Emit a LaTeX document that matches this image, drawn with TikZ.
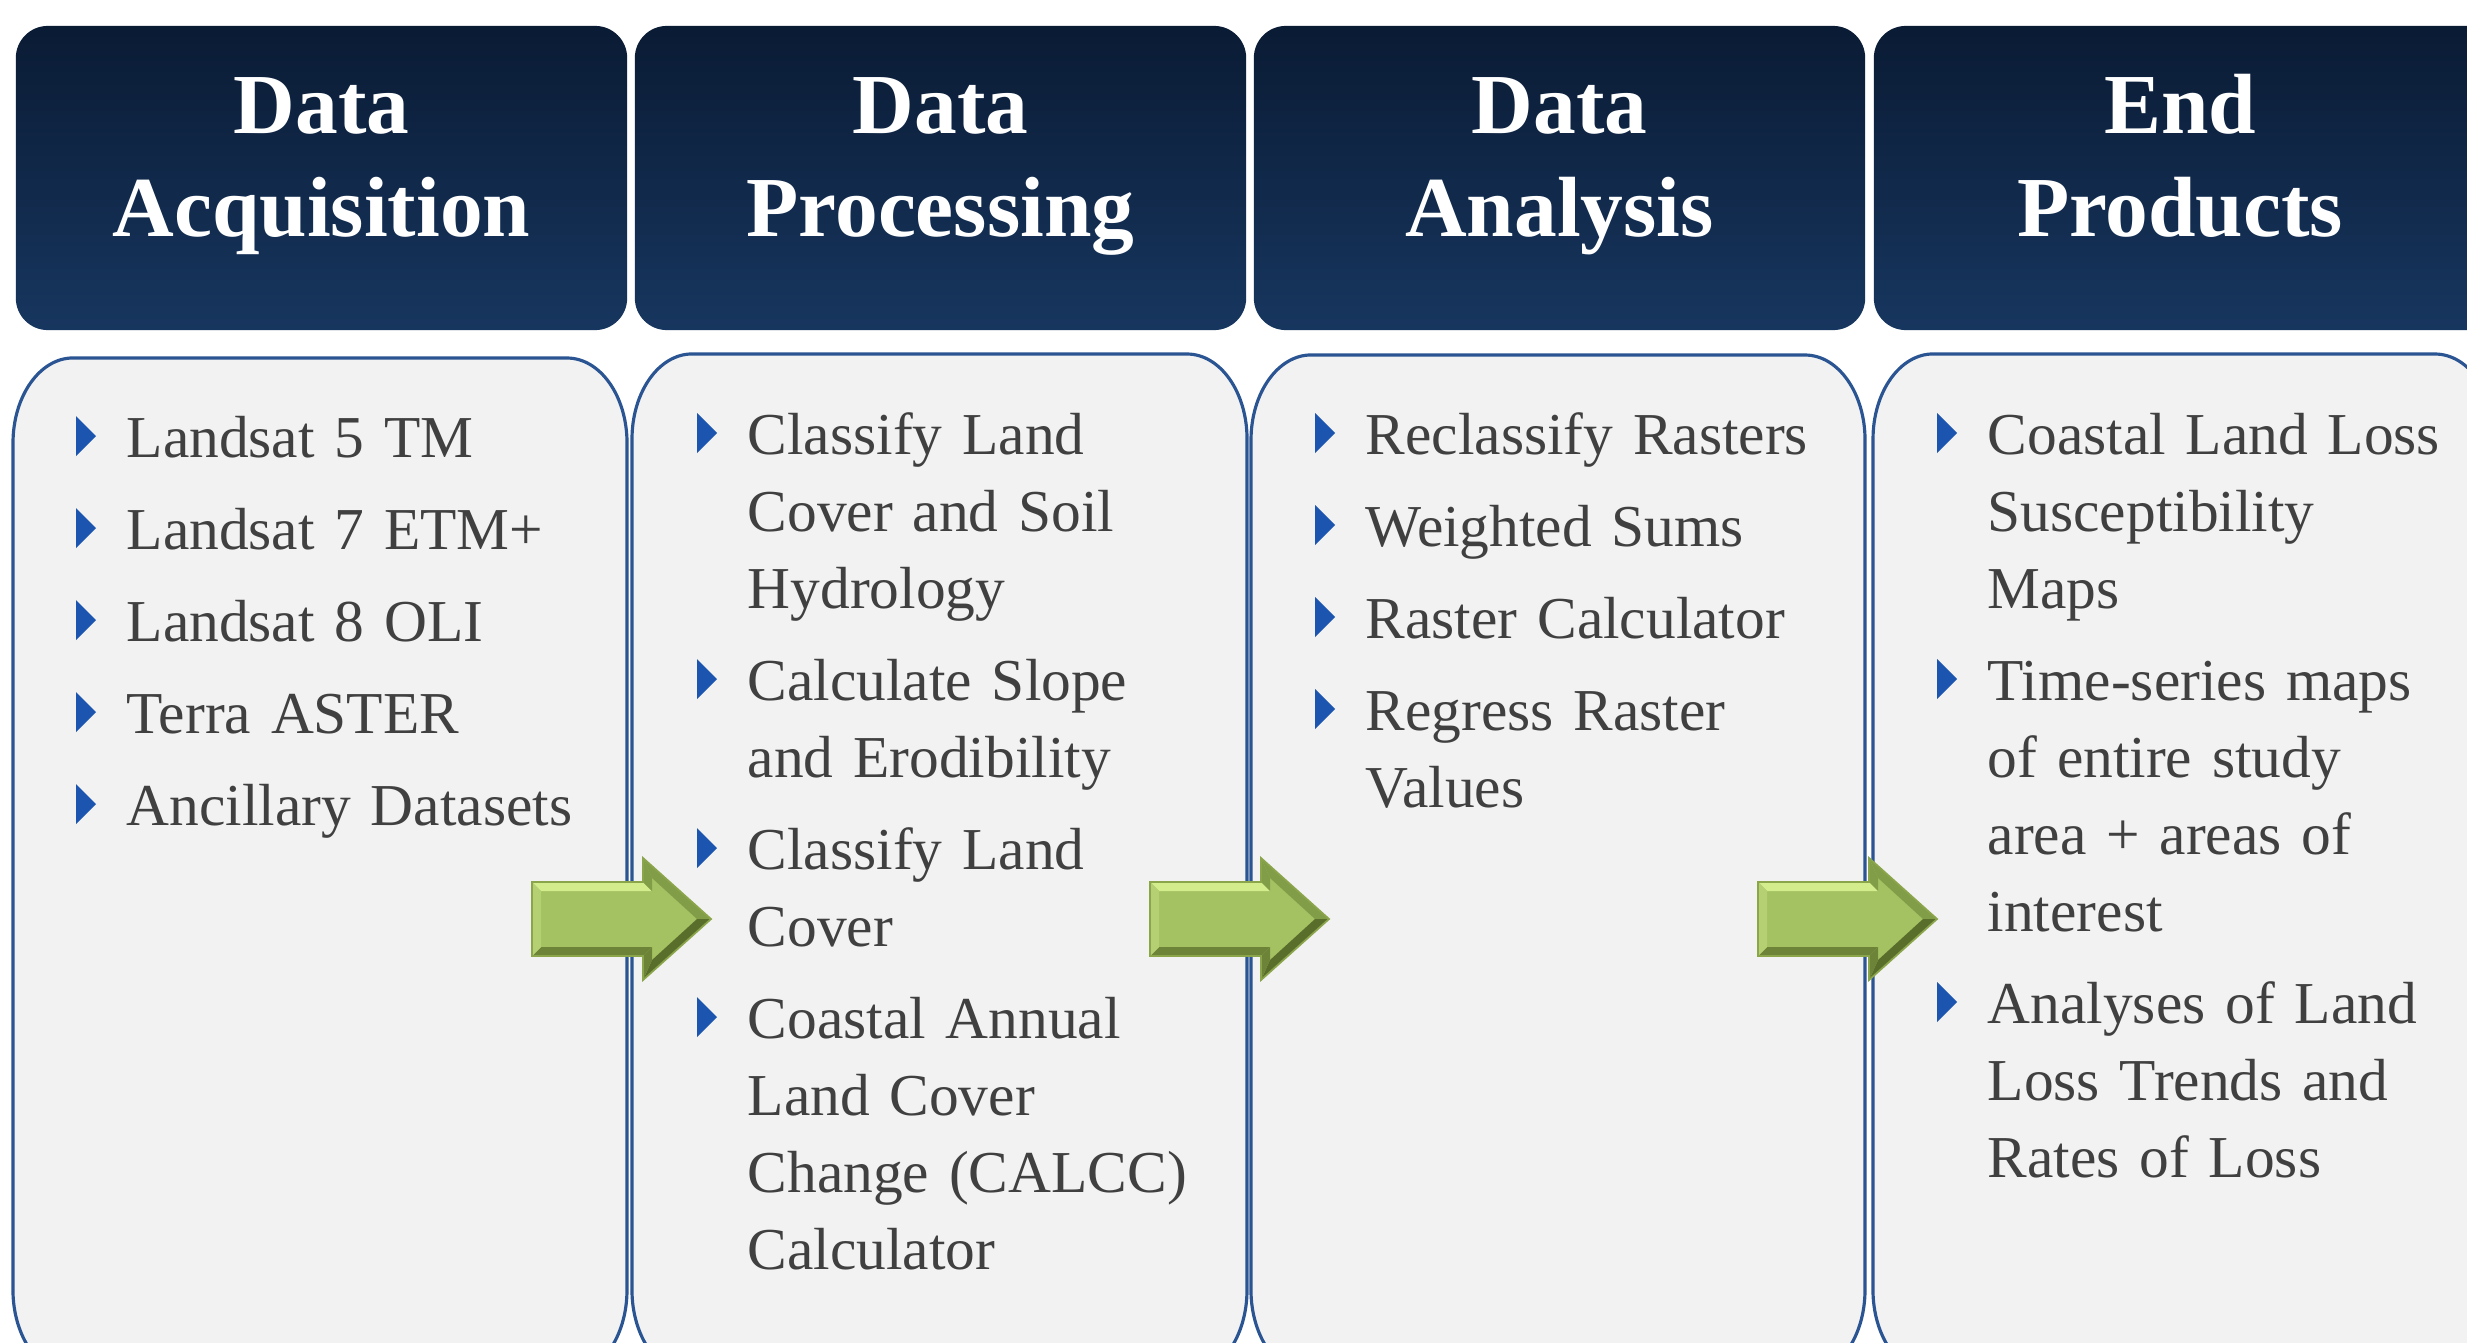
\documentclass[tikz,border=0pt]{standalone}
\usepackage{fontspec}
\setmainfont{Liberation Serif}
\definecolor{headtop}{HTML}{0A1B34}
\definecolor{headbot}{HTML}{17365F}
\definecolor{boxfill}{HTML}{F2F2F2}
\definecolor{boxline}{HTML}{2B5592}
\definecolor{txtgray}{HTML}{404040}
\definecolor{bulblue}{HTML}{1C55B0}
\definecolor{gmain}{HTML}{A4C262}
\definecolor{glight}{HTML}{D3EC8C}
\definecolor{gleft}{HTML}{B5D072}
\definecolor{gmid}{HTML}{819D47}
\definecolor{gdark}{HTML}{5A6E2C}
\definecolor{gdark2}{HTML}{6D8438}
\definecolor{gline}{HTML}{8AA54A}
\newcommand\contentbox[4]{%
  \path[cbox] ({#1+60},#3) -- ({#2-60},#3)
    arc[start angle=90,end angle=0,x radius=0.6cm,y radius=0.85cm]
    -- (#2,{#4-85})
    arc[start angle=0,end angle=-90,x radius=0.6cm,y radius=0.85cm]
    -- ({#1+60},#4)
    arc[start angle=270,end angle=180,x radius=0.6cm,y radius=0.85cm]
    -- (#1,{#3+85})
    arc[start angle=180,end angle=90,x radius=0.6cm,y radius=0.85cm]
    -- cycle;}
\newcommand\mybullet[1]{\fill[bulblue] (#1.base west) ++(-50,-1) -- ++(0,-40) -- ++(20,20) -- cycle;}
\newcommand\greenarrow[1]{%
  \begin{scope}[shift={(#1,0)}]
    \fill[gmain] (0,882) -- (111,882) -- (111,858) -- (179,919) -- (111,980) -- (111,956) -- (0,956) -- cycle;
    \fill[glight] (0,882) -- (111,882) -- (120,891) -- (9,891) -- cycle;
    \fill[gmid] (111,882) -- (111,858) -- (120,878) -- (120,891) -- cycle;
    \fill[gmid] (111,858) -- (179,919) -- (165,919) -- (120,878) -- cycle;
    \fill[gdark] (179,919) -- (111,980) -- (120,960) -- (165,919) -- cycle;
    \fill[gdark2] (111,980) -- (111,956) -- (120,947) -- (120,960) -- cycle;
    \fill[gdark2] (111,956) -- (0,956) -- (9,947) -- (120,947) -- cycle;
    \fill[gleft] (0,956) -- (0,882) -- (9,891) -- (9,947) -- cycle;
    \draw[gline, line width=0.5pt, line join=miter] (0,882) -- (111,882) -- (111,858) -- (179,919) -- (111,980) -- (111,956) -- (0,956) -- cycle;
  \end{scope}}
\begin{document}
\begin{tikzpicture}[x=0.01cm,y=-0.01cm,
  cbox/.style={fill=boxfill, draw=boxline, line width=0.9pt},
  headbox/.style={rounded corners=0.32cm, top color=headtop, bottom color=headbot, draw=none, minimum height=3.04cm, inner sep=0},
  htext/.style={anchor=base, inner sep=0, text width=6cm, align=center, text=white, font=\fontsize{24.3}{29.3}\selectfont\bfseries},
  itemtext/.style={anchor=base west, inner sep=0, text width=5.9cm, align=left, text=txtgray, font=\fontsize{16.9}{21.9}\selectfont}]
\clip (0,0) rectangle (2467,1342);
\fill[white] (0,0) rectangle (2467,1342);

% content boxes
\contentbox{13}{627}{358}{1375}
\contentbox{632}{1247}{354}{1375}
\contentbox{1251}{1865}{355}{1375}
\contentbox{1873}{2495}{354}{1375}

% headers
\node[headbox, minimum width=6.11cm] (h1) at (321.5,178) {};
\node[headbox, minimum width=6.11cm] (h2) at (940.5,178) {};
\node[headbox, minimum width=6.11cm] (h3) at (1559.5,178) {};
\node[headbox, minimum width=6.26cm] (h4) at (2187,178) {};
\node[htext] (t1) at (321.5,133) {Data\\Acquisition};
\node[htext] (t2) at (940.5,133) {Data\\Processing};
\node[htext] (t3) at (1559.5,133) {Data\\Analysis};
\node[htext] (t4) at (2180,133) {End\\Products};

% column 1
\node[itemtext] (a1) at (126,457) {Landsat 5 TM};
\node[itemtext] (a2) at (126,549) {Landsat 7 ETM+};
\node[itemtext] (a3) at (126,641) {Landsat 8 OLI};
\node[itemtext] (a4) at (126,733) {Terra ASTER};
\node[itemtext] (a5) at (126,825) {Ancillary Datasets};
\mybullet{a1}\mybullet{a2}\mybullet{a3}\mybullet{a4}\mybullet{a5}

% column 2
\node[itemtext] (b1) at (747,454) {Classify Land\\Cover and Soil\\Hydrology};
\node[itemtext] (b2) at (747,700) {Calculate Slope\\and Erodibility};
\node[itemtext] (b3) at (747,869) {Classify Land\\Cover};
\node[itemtext] (b4) at (747,1038) {Coastal Annual\\Land Cover\\Change (CALCC)\\Calculator};
\mybullet{b1}\mybullet{b2}\mybullet{b3}\mybullet{b4}

% column 3
\node[itemtext] (c1) at (1365,454) {Reclassify Rasters};
\node[itemtext] (c2) at (1365,546) {Weighted Sums};
\node[itemtext] (c3) at (1365,638) {Raster Calculator};
\node[itemtext] (c4) at (1365,730) {Regress Raster\\Values};
\mybullet{c1}\mybullet{c2}\mybullet{c3}\mybullet{c4}

% column 4
\node[itemtext] (d1) at (1987,454) {Coastal Land Loss\\Susceptibility\\Maps};
\node[itemtext] (d2) at (1987,700) {Time-series maps\\of entire study\\area + areas of\\interest};
\node[itemtext] (d3) at (1987,1023) {Analyses of Land\\Loss Trends and\\Rates of Loss};
\mybullet{d1}\mybullet{d2}\mybullet{d3}

% arrows
\greenarrow{532}
\greenarrow{1150}
\greenarrow{1758}
\end{tikzpicture}
\end{document}
